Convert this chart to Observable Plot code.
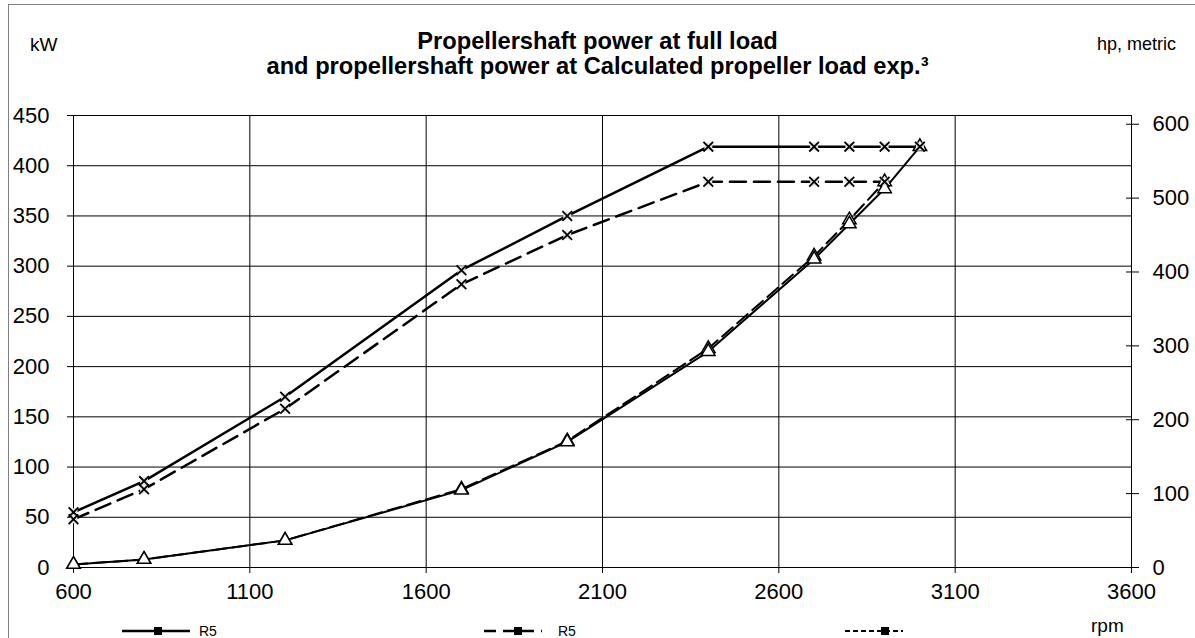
<!DOCTYPE html>
<html><head><meta charset="utf-8">
<script src="https://cdn.jsdelivr.net/npm/d3@7"></script>
<script src="https://cdn.jsdelivr.net/npm/@observablehq/plot@0.6"></script>
<style>
body{margin:0;background:#fff;overflow:hidden;font-family:Arial,"Liberation Sans",sans-serif;}
#wrap{position:relative;width:1195px;height:638px;overflow:hidden;}
#border{position:absolute;left:8px;top:4px;width:1300px;height:800px;border-left:1px solid #808080;border-top:1px solid #808080;}
#chart{position:absolute;left:0;top:0;}
.t{position:absolute;white-space:nowrap;color:#000;}
#title{left:0;width:1195px;top:29px;text-align:center;font-weight:bold;font-size:23.7px;line-height:25px;}
#kw{left:30px;top:34px;font-size:19px;}
#hp{left:1097px;top:34px;font-size:18px;}
.leg{position:absolute;top:622px;}
.lt{position:absolute;top:623px;font-size:14px;}
</style></head>
<body>
<div id="wrap">
  <div id="border"></div>
  <div id="chart"></div>
  <div class="t" id="kw">kW</div>
  <div class="t" id="hp">hp, metric</div>
  <div class="t" id="title">Propellershaft power at full load<br>and propellershaft power at Calculated propeller load exp.³</div>
  <svg class="leg" style="left:120px" width="72" height="18"><line x1="2" x2="70" y1="9" y2="9" stroke="#000" stroke-width="2.5"/><rect x="34" y="5" width="8" height="8" fill="#000"/></svg>
  <div class="t lt" style="left:199px">R5</div>
  <svg class="leg" style="left:482px" width="62" height="18"><line x1="2" x2="60" y1="9" y2="9" stroke="#000" stroke-width="2.5" stroke-dasharray="12,7"/><rect x="32" y="5" width="8" height="8" fill="#000"/></svg>
  <div class="t lt" style="left:558px">R5</div>
  <svg class="leg" style="left:843px" width="62" height="18"><line x1="2" x2="60" y1="9" y2="9" stroke="#000" stroke-width="2" stroke-dasharray="5,3"/><rect x="38" y="5" width="8" height="8" fill="#000"/></svg>
  <div class="t lt" style="left:1091px;font-size:19px;top:615px">rpm</div>
</div>
<script>
// Data (rpm vs kW)
const rpmFull = [600, 800, 1200, 1700, 2000, 2400, 2700, 2800, 2900, 3000];
const kwFull = [55, 86, 170, 296, 350, 419, 419, 419, 419, 419];
const rpmCalc = [600, 800, 1200, 1700, 2000, 2400, 2700, 2800, 2900];
const kwCalc = [48, 78, 158, 282, 331, 384, 384, 384, 384];
const rpmPropFull = [600, 800, 1200, 1700, 2000, 2400, 2700, 2800, 2900, 3000];
const kwPropFull = [3, 8, 27, 77, 125, 215, 307, 342, 377, 419];
const rpmPropCalc = [600, 800, 1200, 1700, 2000, 2400, 2700, 2800, 2900];
const kwPropCalc = [3, 8, 27, 78, 126, 218, 310, 346, 384];
const xTicks = [600, 1100, 1600, 2100, 2600, 3100, 3600];
const yTicks = [0, 50, 100, 150, 200, 250, 300, 350, 400, 450];
const hpTicks = [0, 100, 200, 300, 400, 500, 600];
const kwPerHp = 0.73549875;

const pts = (xs, ys) => xs.map((x, i) => ({rpm: x, kw: ys[i]}));
const full = pts(rpmFull, kwFull);
const calc = pts(rpmCalc, kwCalc);
const propFull = pts(rpmPropFull, kwPropFull);
const propCalc = pts(rpmPropCalc, kwPropCalc);
const hpAsKw = hpTicks.map(h => h * kwPerHp);

const chart = Plot.plot({
  width: 1195, height: 638,
  marginLeft: 73, marginRight: 64, marginTop: 115, marginBottom: 71,
  x: {domain: [600, 3600]},
  y: {domain: [0, 450]},
  style: {fontFamily: "Arial, 'Liberation Sans', sans-serif", fontSize: "22px", color: "#000", background: "transparent"},
  marks: [
    Plot.gridY(yTicks, {stroke: "#000", strokeOpacity: 1, strokeWidth: 1}),
    Plot.gridX(xTicks, {stroke: "#000", strokeOpacity: 1, strokeWidth: 1}),
    Plot.frame({stroke: "#000"}),
    Plot.axisY(yTicks, {anchor: "left", tickSize: 6, tickPadding: 18, label: null, tickFormat: d => String(d)}),
    Plot.axisY(hpAsKw, {anchor: "right", tickSize: 13, dx: -6, label: null, tickFormat: () => ""}),
    Plot.text(hpAsKw, {y: d => d, frameAnchor: "right", textAnchor: "start", dx: 21, fontSize: 22, fill: "#000", text: d => String(Math.round(d / kwPerHp))}),
    Plot.axisX(xTicks, {anchor: "bottom", tickSize: 6, tickPadding: 10, label: null, tickFormat: d => String(d)}),
    Plot.line(propCalc, {x: "rpm", y: "kw", stroke: "#000", strokeWidth: 2, strokeDasharray: "14,6"}),
    Plot.line(propFull, {x: "rpm", y: "kw", stroke: "#000", strokeWidth: 2}),
    Plot.line(calc, {x: "rpm", y: "kw", stroke: "#000", strokeWidth: 2.5, strokeDasharray: "16,8"}),
    Plot.line(full, {x: "rpm", y: "kw", stroke: "#000", strokeWidth: 2.5}),
    Plot.dot(propCalc, {x: "rpm", y: "kw", symbol: "triangle", r: 5, fill: "#fff", stroke: "#000", strokeWidth: 1.5}),
    Plot.dot(propFull, {x: "rpm", y: "kw", symbol: "triangle", r: 5, fill: "#fff", stroke: "#000", strokeWidth: 1.5}),
    Plot.dot(calc, {x: "rpm", y: "kw", symbol: "square", r: 4.5, fill: "#e4e4e4"}),
    Plot.dot(full, {x: "rpm", y: "kw", symbol: "square", r: 4.5, fill: "#e4e4e4"}),
    Plot.dot(calc, {x: "rpm", y: "kw", symbol: "times", r: 4.5, stroke: "#000", strokeWidth: 1.8}),
    Plot.dot(full, {x: "rpm", y: "kw", symbol: "times", r: 4.5, stroke: "#000", strokeWidth: 1.8})
  ]
});
document.getElementById("chart").appendChild(chart);
</script>
</body></html>
